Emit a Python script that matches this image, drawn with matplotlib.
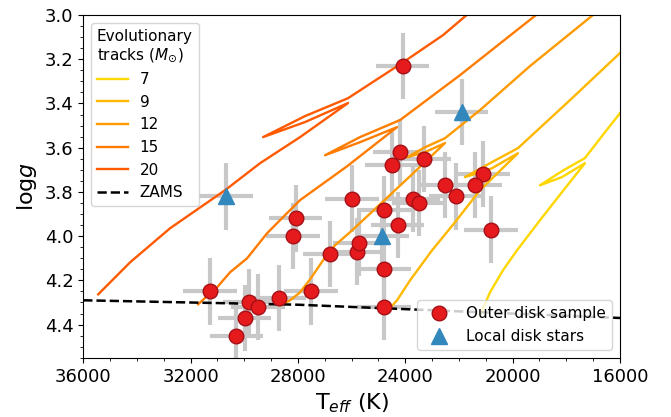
import numpy as np
import matplotlib
matplotlib.use('Agg')
import matplotlib.pyplot as plt
from matplotlib.ticker import MultipleLocator

# amostra do disco externo (Teff, logg)
teff_out = [24100, 24190, 23300, 24490, 21090, 22510, 21390, 22100, 25990, 23720,
            23500, 28090, 24790, 24290, 20800, 28190, 26800, 25810, 25710, 24790,
            31270, 29810, 29490, 28700, 27510, 24790, 29990, 30290]
logg_out = [3.23, 3.62, 3.65, 3.68, 3.72, 3.77, 3.77, 3.82, 3.83, 3.83,
            3.85, 3.92, 3.88, 3.95, 3.97, 4.00, 4.08, 4.07, 4.03, 4.15,
            4.25, 4.30, 4.32, 4.28, 4.25, 4.32, 4.37, 4.45]

# estrelas do disco local
teff_loc = [30690, 21900, 24880]
logg_loc = [3.82, 3.44, 4.00]

teff_err = 1000
logg_err = 0.15

# ZAMS
zams_teff = [36000, 32000, 28000, 24000, 20000, 16000]
zams_logg = [4.29, 4.30, 4.31, 4.33, 4.35, 4.37]

# trilhas evolutivas
masses = [7, 9, 12, 15, 20]
colors = ['#ffd700', '#ffb700', '#ff9a00', '#ff7c00', '#ff5a00']

trk_teff = {
    20: [35441, 34250, 32760, 30712, 29409, 27919, 26131, 27733, 29297, 27733, 26131, 24120, 22594, 20840],
    15: [31717, 31271, 31010, 30526, 29893, 29150, 28554, 27919, 26169, 24307, 25685, 26988, 25685, 24195,
         21961, 19838, 18981],
    12: [28664, 28291, 27919, 27546, 27062, 26616, 26057, 24940, 23823, 22519, 23264, 23934, 23264, 22519,
         21216, 19354, 17008, 16561],
    9: [24642, 24307, 23823, 23003, 22147, 21216, 19801, 20769, 21774, 20769, 19801, 17864, 16001, 15256],
    7: [21216, 20843, 20359, 19838, 18981, 18162, 17306, 18162, 18981, 18162, 17306, 16561, 16001, 15443],
}
trk_logg = {
    20: [4.263, 4.118, 3.964, 3.792, 3.670, 3.552, 3.398, 3.484, 3.552, 3.457, 3.376, 3.217, 3.091, 2.91],
    15: [4.308, 4.258, 4.231, 4.163, 4.100, 3.987, 3.914, 3.837, 3.684, 3.507, 3.575, 3.634, 3.552, 3.475,
         3.272, 3.068, 2.986],
    12: [4.313, 4.290, 4.254, 4.195, 4.109, 4.041, 3.982, 3.856, 3.729, 3.579, 3.620, 3.643, 3.598, 3.557,
         3.430, 3.231, 3.000, 2.955],
    9: [4.335, 4.290, 4.200, 4.064, 3.937, 3.792, 3.625, 3.693, 3.733, 3.665, 3.602, 3.385, 3.172, 3.095],
    7: [4.358, 4.254, 4.154, 4.064, 3.928, 3.801, 3.670, 3.733, 3.770, 3.706, 3.647, 3.530, 3.444, 3.353],
}

plt.rcParams['font.family'] = 'DejaVu Sans'
fig, ax = plt.subplots(figsize=(6.71, 4.17), dpi=100)
fig.subplots_adjust(left=0.124, right=0.924, bottom=0.142, top=0.964)

track_lines = []
for m, c in zip(masses, colors):
    l, = ax.plot(trk_teff[m], trk_logg[m], color=c, lw=1.7, zorder=2, label=str(m))
    track_lines.append(l)
zl, = ax.plot(zams_teff, zams_logg, 'k--', lw=1.8, zorder=2, label='ZAMS')

ax.errorbar(teff_out, logg_out, xerr=teff_err, yerr=logg_err, fmt='none',
            ecolor='#c8c8c8', elinewidth=3, zorder=1)
ax.errorbar(teff_loc, logg_loc, xerr=teff_err, yerr=logg_err, fmt='none',
            ecolor='#c8c8c8', elinewidth=3, zorder=1)
p1, = ax.plot(teff_out, logg_out, 'o', ms=10.5, mfc='#e41a1c', mec='#a50f15',
              mew=1, ls='none', zorder=3, label='Outer disk sample')
p2, = ax.plot(teff_loc, logg_loc, '^', ms=11, mfc='#3288bd', mec='#3288bd',
              ls='none', zorder=3, label='Local disk stars')

ax.set_xlim(36000, 16000)
ax.set_ylim(4.55, 3.0)
ax.xaxis.set_major_locator(MultipleLocator(4000))
ax.xaxis.set_minor_locator(MultipleLocator(1000))
ax.yaxis.set_major_locator(MultipleLocator(0.2))
ax.yaxis.set_minor_locator(MultipleLocator(0.05))
ax.tick_params(labelsize=13)
ax.set_xlabel(r'T$_{eff}$ (K)', fontsize=16)
ax.set_ylabel(r'log$g$', fontsize=16)

leg1 = ax.legend(handles=track_lines + [zl], loc='upper left',
                 title='Evolutionary\ntracks ($M_{\\odot}$)', fontsize=11,
                 title_fontsize=11)
leg1._legend_box.align = 'left'
ax.add_artist(leg1)
ax.legend(handles=[p1, p2], loc='lower right', fontsize=11)

plt.savefig('out.png', dpi=100)
